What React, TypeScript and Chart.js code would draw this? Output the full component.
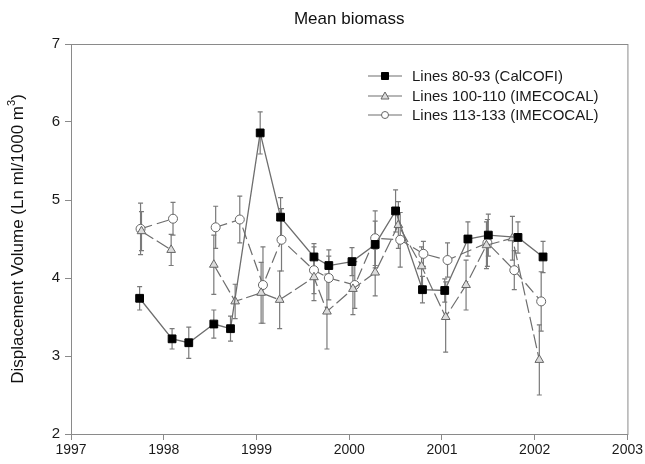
import React, { useEffect, useRef } from 'react';
import { Chart, registerables } from 'chart.js';
Chart.register(...registerables);

const titleText = 'Mean biomass';
const yTitleMain = 'Displacement Volume (Ln ml/1000 m';
const yTitleSup = '3';
const yTitleEnd = ')';
const xTicks = [1997, 1998, 1999, 2000, 2001, 2002, 2003];
const yTicks = [2, 3, 4, 5, 6, 7];

const calcofiLabel = 'Lines 80-93 (CalCOFI)';
const calcofiX = [1997.74, 1998.09, 1998.27, 1998.54, 1998.72, 1999.04, 1999.26, 1999.62, 1999.78, 2000.03, 2000.28, 2000.5, 2000.79, 2001.03, 2001.28, 2001.5, 2001.82, 2002.09];
const calcofiY = [3.74, 3.22, 3.17, 3.41, 3.35, 5.86, 4.78, 4.27, 4.16, 4.21, 4.43, 4.86, 3.85, 3.84, 4.5, 4.55, 4.52, 4.27];
const calcofiErr = [0.15, 0.13, 0.2, 0.18, 0.16, 0.27, 0.25, 0.17, 0.2, 0.18, 0.3, 0.27, 0.17, 0.15, 0.22, 0.27, 0.2, 0.2];

const northLabel = 'Lines 100-110 (IMECOCAL)';
const northX = [1997.76, 1998.08, 1998.54, 1998.77, 1999.05, 1999.25, 1999.62, 1999.76, 2000.04, 2000.28, 2000.53, 2000.78, 2001.04, 2001.26, 2001.48, 2001.76, 2002.05];
const northY = [4.6, 4.36, 4.17, 3.7, 3.81, 3.72, 4.01, 3.57, 3.86, 4.07, 4.68, 4.15, 3.5, 3.91, 4.42, 4.51, 2.95];
const northErr = [0.25, 0.2, 0.38, 0.22, 0.39, 0.37, 0.3, 0.48, 0.33, 0.3, 0.3, 0.25, 0.45, 0.32, 0.3, 0.28, 0.45];

const southLabel = 'Lines 113-133 (IMECOCAL)';
const southX = [1997.75, 1998.1, 1998.56, 1998.82, 1999.07, 1999.27, 1999.62, 1999.78, 2000.06, 2000.28, 2000.55, 2000.8, 2001.06, 2001.49, 2001.78, 2002.07];
const southY = [4.63, 4.76, 4.65, 4.75, 3.91, 4.49, 4.1, 4.0, 3.91, 4.51, 4.49, 4.31, 4.23, 4.45, 4.1, 3.7];
const southErr = [0.33, 0.21, 0.27, 0.3, 0.49, 0.4, 0.3, 0.28, 0.3, 0.35, 0.35, 0.16, 0.22, 0.3, 0.25, 0.38];

// index after which the survey line is interrupted (no connecting segment)
const northBreakAfter = 1;
const southBreakAfter = 1;

const FONT = '"Liberation Sans", Arial, sans-serif';
const LINE = '#6e6e6e';
const AXIS = '#8a8a8a';

function toPoints(xs: number[], ys: number[], breakAfter: number) {
  const pts: { x: number; y: number | null }[] = [];
  xs.forEach((x, i) => {
    pts.push({ x, y: ys[i] });
    if (i === breakAfter && i + 1 < xs.length) pts.push({ x: (x + xs[i + 1]) / 2, y: null });
  });
  return pts;
}

const errorSets = [
  { xs: calcofiX, ys: calcofiY, errs: calcofiErr },
  { xs: northX, ys: northY, errs: northErr },
  { xs: southX, ys: southY, errs: southErr },
];

const legendItems = [
  { label: calcofiLabel, style: 'rect', fill: '#000', stroke: '#000' },
  { label: northLabel, style: 'triangle', fill: '#dcdcdc', stroke: '#666' },
  { label: southLabel, style: 'circle', fill: '#fff', stroke: '#666' },
];

export default function App() {
  const ref = useRef<HTMLCanvasElement | null>(null);

  useEffect(() => {
    document.body.style.margin = '0';
    const canvas = ref.current;
    if (!canvas) return;

    const errorBars = {
      id: 'errorBars',
      beforeDatasetsDraw(chart: any) {
        const { ctx, scales } = chart;
        const xs = scales.x, ys = scales.y;
        ctx.save();
        ctx.strokeStyle = '#7a7a7a';
        ctx.lineWidth = 1.2;
        errorSets.forEach((s) => {
          s.xs.forEach((x, i) => {
            const px = xs.getPixelForValue(x);
            const top = ys.getPixelForValue(s.ys[i] + s.errs[i]);
            const bot = ys.getPixelForValue(s.ys[i] - s.errs[i]);
            ctx.beginPath();
            ctx.moveTo(px, top);
            ctx.lineTo(px, bot);
            ctx.moveTo(px - 2.5, top);
            ctx.lineTo(px + 2.5, top);
            ctx.moveTo(px - 2.5, bot);
            ctx.lineTo(px + 2.5, bot);
            ctx.stroke();
          });
        });
        ctx.restore();
      },
    };

    const decor = {
      id: 'decor',
      afterDraw(chart: any) {
        const { ctx, chartArea } = chart;
        ctx.save();
        // frame
        ctx.strokeStyle = AXIS;
        ctx.lineWidth = 1;
        ctx.strokeRect(chartArea.left + 0.5, chartArea.top + 0.5, chartArea.right - chartArea.left, chartArea.bottom - chartArea.top);
        // title
        ctx.fillStyle = '#111';
        ctx.font = `17px ${FONT}`;
        ctx.textAlign = 'center';
        ctx.textBaseline = 'middle';
        ctx.fillText(titleText, (chartArea.left + chartArea.right) / 2, 19);
        // y title
        ctx.save();
        ctx.translate(18, (chartArea.top + chartArea.bottom) / 2);
        ctx.rotate(-Math.PI / 2);
        ctx.font = `17px ${FONT}`;
        const w1 = ctx.measureText(yTitleMain).width;
        ctx.font = `11px ${FONT}`;
        const w2 = ctx.measureText(yTitleSup).width;
        ctx.font = `17px ${FONT}`;
        const w3 = ctx.measureText(yTitleEnd).width;
        const total = w1 + w2 + w3;
        let x0 = -total / 2;
        ctx.textAlign = 'left';
        ctx.textBaseline = 'middle';
        ctx.fillText(yTitleMain, x0, 0);
        x0 += w1;
        ctx.font = `11px ${FONT}`;
        ctx.fillText(yTitleSup, x0, -6);
        x0 += w2;
        ctx.font = `17px ${FONT}`;
        ctx.fillText(yTitleEnd, x0, 0);
        ctx.restore();
        // legend
        const rowsY = [76, 96, 115];
        legendItems.forEach((it, i) => {
          const y = rowsY[i];
          ctx.strokeStyle = LINE;
          ctx.lineWidth = 1.2;
          ctx.beginPath();
          ctx.moveTo(368, y);
          ctx.lineTo(402, y);
          ctx.stroke();
          ctx.fillStyle = it.fill;
          ctx.strokeStyle = it.stroke;
          ctx.lineWidth = 1;
          ctx.beginPath();
          if (it.style === 'rect') {
            ctx.rect(385 - 3.5, y - 3.5, 7, 7);
          } else if (it.style === 'triangle') {
            ctx.moveTo(385, y - 4);
            ctx.lineTo(385 + 4, y + 3);
            ctx.lineTo(385 - 4, y + 3);
            ctx.closePath();
          } else {
            ctx.arc(385, y, 3.5, 0, Math.PI * 2);
          }
          ctx.fill();
          ctx.stroke();
          ctx.fillStyle = '#1a1a1a';
          ctx.font = `15px ${FONT}`;
          ctx.textAlign = 'left';
          ctx.textBaseline = 'middle';
          ctx.fillText(it.label, 412, y + 1);
        });
        ctx.restore();
      },
    };

    const chart = new Chart(canvas, {
      type: 'line',
      data: {
        datasets: [
          {
            label: calcofiLabel,
            data: toPoints(calcofiX, calcofiY, -1),
            borderColor: LINE,
            borderWidth: 1.3,
            pointStyle: 'rect',
            pointRadius: 5.5,
            pointBackgroundColor: '#000',
            pointBorderColor: '#000',
            pointBorderWidth: 1,
            spanGaps: false,
          },
          {
            label: northLabel,
            data: toPoints(northX, northY, northBreakAfter),
            borderColor: LINE,
            borderWidth: 1.2,
            borderDash: [14, 4],
            pointStyle: 'triangle',
            pointRadius: 5,
            pointBackgroundColor: '#dcdcdc',
            pointBorderColor: '#666',
            pointBorderWidth: 1,
            spanGaps: false,
          },
          {
            label: southLabel,
            data: toPoints(southX, southY, southBreakAfter),
            borderColor: LINE,
            borderWidth: 1.2,
            borderDash: [12, 5],
            pointStyle: 'circle',
            pointRadius: 4.5,
            pointBackgroundColor: '#fff',
            pointBorderColor: '#666',
            pointBorderWidth: 1,
            spanGaps: false,
          },
        ],
      },
      options: {
        responsive: false,
        animation: false,
        devicePixelRatio: 1,
        layout: { padding: { left: 0, top: 44, right: 15, bottom: 0 } },
        plugins: { legend: { display: false }, tooltip: { enabled: false }, title: { display: false } },
        scales: {
          x: {
            type: 'linear',
            min: xTicks[0],
            max: xTicks[xTicks.length - 1],
            afterFit: (s: any) => { s.height = 30; },
            afterBuildTicks: (s: any) => { s.ticks = xTicks.map((v) => ({ value: v })); },
            grid: { drawOnChartArea: false, drawTicks: true, tickLength: 6, color: AXIS },
            border: { display: true, color: AXIS },
            ticks: { color: '#1a1a1a', font: { family: FONT, size: 14 }, padding: 2, callback: (v: any) => String(v) },
          },
          y: {
            type: 'linear',
            min: yTicks[0],
            max: yTicks[yTicks.length - 1],
            afterFit: (s: any) => { s.width = 71; },
            afterBuildTicks: (s: any) => { s.ticks = yTicks.map((v) => ({ value: v })); },
            grid: { drawOnChartArea: false, drawTicks: true, tickLength: 6, color: AXIS },
            border: { display: true, color: AXIS },
            ticks: { color: '#1a1a1a', font: { family: FONT, size: 15 }, padding: 5 },
          },
        },
      },
      plugins: [errorBars, decor],
    } as any);
    return () => chart.destroy();
  }, []);

  return <canvas ref={ref} width={645} height={464} style={{ display: 'block' }} />;
}
